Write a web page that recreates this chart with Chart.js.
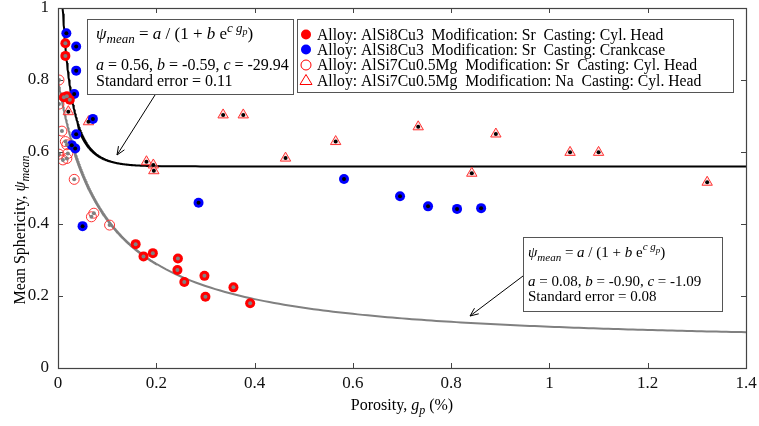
<!DOCTYPE html>
<html><head><meta charset="utf-8">
<script src="https://cdn.jsdelivr.net/npm/chart.js@4/dist/chart.umd.min.js"></script>
<style>html,body{margin:0;padding:0;background:#fff}#wrap{width:759px;height:426px;position:relative}</style>
</head><body><div id="wrap"><canvas id="c" width="759" height="426"></canvas></div>
<script>
// ---- data ----
const xTicks = [0, 0.2, 0.4, 0.6, 0.8, 1, 1.2, 1.4];
const yTicks = [0, 0.2, 0.4, 0.6, 0.8, 1];

const legendLabels = [
  "Alloy: AlSi8Cu3  Modification: Sr  Casting: Cyl. Head",
  "Alloy: AlSi8Cu3  Modification: Sr  Casting: Crankcase",
  "Alloy: AlSi7Cu0.5Mg  Modification: Sr  Casting: Cyl. Head",
  "Alloy: AlSi7Cu0.5Mg  Modification: Na  Casting: Cyl. Head"
];

// AlSi8Cu3, Sr, Cyl. Head (filled red)
const s1X = [0.015,0.015,0.012,0.018,0.024,0.158,0.174,0.193,0.244,0.243,0.257,0.298,0.300,0.357,0.391];
const s1Y = [0.902,0.867,0.752,0.755,0.745,0.344,0.310,0.319,0.304,0.272,0.239,0.256,0.198,0.224,0.180];
// AlSi8Cu3, Sr, Crankcase (filled blue)
const s2X = [0.017,0.037,0.037,0.033,0.071,0.037,0.028,0.035,0.050,0.286,0.582,0.696,0.753,0.812,0.861];
const s2Y = [0.930,0.893,0.826,0.761,0.692,0.649,0.619,0.610,0.394,0.459,0.525,0.477,0.449,0.442,0.444];
// AlSi7Cu0.5Mg, Sr, Cyl. Head (open red circle)
const s3X = [0.002,0.002,0.008,0.015,0.018,0.002,0.010,0.018,0.020,0.033,0.068,0.073,0.105];
const s3Y = [0.800,0.733,0.658,0.629,0.620,0.594,0.578,0.582,0.596,0.524,0.420,0.430,0.397];
// AlSi7Cu0.5Mg, Na, Cyl. Head (open red triangle)
const s4X = [0.021,0.062,0.180,0.194,0.195,0.336,0.377,0.463,0.565,0.733,0.842,0.891,1.042,1.100,1.321];
const s4Y = [0.712,0.684,0.573,0.564,0.548,0.703,0.703,0.583,0.629,0.670,0.541,0.650,0.599,0.599,0.516];

// fitted model parameters stated in the annotation boxes: psi = a / (1 + b e^(c gp))
const fitBlack = {a: 0.56, b: -0.59, c: -29.94, se: 0.11};
const fitGray  = {a: 0.08, b: -0.90, c: -1.09,  se: 0.08};
const fitGridX = [];
for (let i = 0; i <= 400; i++) fitGridX.push(i * 0.0005);
for (let i = 21; i <= 140; i++) fitGridX.push(i * 0.01);

function pts(xs, ys) { return xs.map((x, i) => ({x: x, y: ys[i]})); }
function fitPts(f) { return fitGridX.map(x => ({x: x, y: f.a / (1 + f.b * Math.exp(f.c * x))})); }

const SERIF = '"Liberation Serif", "DejaVu Serif", serif';
const RED = '#ff0000', BLUE = '#0000ff', GRAY = '#808080';

function drawRich(ctx, x, y, segs) {
  for (const s of segs) {
    ctx.font = (s.it ? 'italic ' : '') + s.size + 'px ' + SERIF;
    ctx.fillText(s.t, x, y + (s.dy || 0));
    x += ctx.measureText(s.t).width;
  }
  return x;
}
function richWidth(ctx, segs) {
  let w = 0;
  for (const s of segs) { ctx.font = (s.it ? 'italic ' : '') + s.size + 'px ' + SERIF; w += ctx.measureText(s.t).width; }
  return w;
}
function formulaSegs(S) {
  const s = Math.round(S * 0.75), ss = Math.round(S * 0.58);
  return [
    {t:'ψ', it:true, size:S}, {t:'mean', it:true, size:s, dy:4},
    {t:' = ', size:S}, {t:'a', it:true, size:S}, {t:' / (1 + ', size:S},
    {t:'b', it:true, size:S}, {t:' e', size:S},
    {t:'c', it:true, size:s, dy:-7}, {t:' g', it:true, size:s, dy:-7}, {t:'p', it:true, size:ss, dy:-4},
    {t:')', size:S}
  ];
}
function arrow(ctx, x1, y1, x2, y2) {
  ctx.save();
  ctx.strokeStyle = '#000'; ctx.lineWidth = 1;
  ctx.beginPath(); ctx.moveTo(x1, y1); ctx.lineTo(x2, y2); ctx.stroke();
  const ang = Math.atan2(y2 - y1, x2 - x1), L = 9, W = 0.4;
  ctx.beginPath();
  ctx.moveTo(x2 - L * Math.cos(ang - W), y2 - L * Math.sin(ang - W));
  ctx.lineTo(x2, y2);
  ctx.lineTo(x2 - L * Math.cos(ang + W), y2 - L * Math.sin(ang + W));
  ctx.stroke();
  ctx.restore();
}
function box(ctx, x, y, w, h) {
  ctx.save();
  ctx.fillStyle = '#fff'; ctx.fillRect(x, y, w, h);
  ctx.strokeStyle = '#555'; ctx.lineWidth = 1;
  ctx.strokeRect(x + 0.5, y + 0.5, w, h);
  ctx.restore();
}

const decor = {
  id: 'decor',
  beforeDatasetsDraw(chart) {
    const {ctx, chartArea: a} = chart;
    ctx.save();
    ctx.strokeStyle = '#444'; ctx.lineWidth = 1;
    const xs = chart.scales.x, ys = chart.scales.y;
    ctx.beginPath();
    for (const v of xTicks) {
      const px = Math.round(xs.getPixelForValue(v)) + 0.5;
      ctx.moveTo(px, a.bottom); ctx.lineTo(px, a.bottom - 5);
      ctx.moveTo(px, a.top); ctx.lineTo(px, a.top + 5);
    }
    for (const v of yTicks) {
      const py = Math.round(ys.getPixelForValue(v)) + 0.5;
      ctx.moveTo(a.left, py); ctx.lineTo(a.left + 5, py);
      ctx.moveTo(a.right, py); ctx.lineTo(a.right - 5, py);
    }
    ctx.stroke();
    ctx.restore();
  },
  afterDatasetsDraw(chart) {
    const {ctx, chartArea: a} = chart;
    ctx.save();
    ctx.strokeStyle = '#444'; ctx.lineWidth = 1.2;
    ctx.strokeRect(Math.round(a.left) + 0.5, Math.round(a.top) + 0.5, Math.round(a.right - a.left), Math.round(a.bottom - a.top));

    ctx.fillStyle = '#000'; ctx.textBaseline = 'alphabetic'; ctx.textAlign = 'left';
    // arrows
    arrow(ctx, 155, 95, 117, 155);
    arrow(ctx, 523, 276, 470, 316);

    // upper-left annotation box
    box(ctx, 87, 19, 206, 75);
    ctx.fillStyle = '#000';
    drawRich(ctx, 96, 39, formulaSegs(17));
    drawRich(ctx, 96, 70, [{t:'a', it:true, size:16},{t:' = 0.56, ', size:16},{t:'b', it:true, size:16},{t:' = -0.59, ', size:16},{t:'c', it:true, size:16},{t:' = -29.94', size:16}]);
    drawRich(ctx, 96, 86, [{t:'Standard error = 0.11', size:16}]);

    // lower-right annotation box
    box(ctx, 523, 237, 199, 74);
    ctx.fillStyle = '#000';
    drawRich(ctx, 528, 257, formulaSegs(15));
    drawRich(ctx, 528, 286, [{t:'a', it:true, size:15},{t:' = 0.08, ', size:15},{t:'b', it:true, size:15},{t:' = -0.90, ', size:15},{t:'c', it:true, size:15},{t:' = -1.09', size:15}]);
    drawRich(ctx, 528, 301, [{t:'Standard error = 0.08', size:15}]);

    // legend
    box(ctx, 297, 19, 436, 73);
    const ly = [34.5, 49.5, 65, 80.5];
    for (let i = 0; i < 4; i++) {
      const cx = 306, cy = ly[i];
      ctx.save();
      if (i < 2) {
        ctx.fillStyle = i === 0 ? RED : BLUE;
        ctx.beginPath(); ctx.arc(cx, cy, 5, 0, Math.PI * 2); ctx.fill();
      } else if (i === 2) {
        ctx.strokeStyle = RED; ctx.lineWidth = 1;
        ctx.beginPath(); ctx.arc(cx, cy, 5, 0, Math.PI * 2); ctx.stroke();
      } else {
        ctx.strokeStyle = RED; ctx.lineWidth = 1;
        ctx.beginPath(); ctx.moveTo(cx, cy - 6); ctx.lineTo(cx + 6, cy + 4); ctx.lineTo(cx - 6, cy + 4); ctx.closePath(); ctx.stroke();
      }
      ctx.restore();
      ctx.fillStyle = '#000';
      ctx.textBaseline = 'middle';
      ctx.font = '15.7px ' + SERIF;
      ctx.fillText(legendLabels[i], 317, cy + 1);
      ctx.textBaseline = 'alphabetic';
    }

    // axis titles
    ctx.fillStyle = '#000';
    const xt = [{t:'Porosity, ', size:16},{t:'g', it:true, size:16},{t:'p', it:true, size:12, dy:4},{t:' (%)', size:16}];
    drawRich(ctx, 402 - richWidth(ctx, xt) / 2, 410, xt);
    const yt = [{t:'Mean Sphericity, ', size:16},{t:'ψ', it:true, size:16},{t:'mean', it:true, size:12, dy:4}];
    ctx.save();
    ctx.translate(25, 230); ctx.rotate(-Math.PI / 2);
    drawRich(ctx, -richWidth(ctx, yt) / 2, 0, yt);
    ctx.restore();
    ctx.restore();
  }
};

const ds = [
  // center dots (on top)
  {data: pts(s1X, s1Y), pointRadius: 2, backgroundColor: GRAY, borderWidth: 0, order: 0},
  {data: pts(s2X, s2Y), pointRadius: 2, backgroundColor: '#000', borderWidth: 0, order: 0},
  {data: pts(s3X, s3Y), pointRadius: 2, backgroundColor: GRAY, borderWidth: 0, order: 0},
  {data: pts(s4X, s4Y), pointRadius: 2, backgroundColor: '#000', borderWidth: 0, order: 0},
  // markers
  {label: legendLabels[0], data: pts(s1X, s1Y), pointRadius: 5, backgroundColor: RED, borderColor: RED, borderWidth: 0, order: 1},
  {label: legendLabels[1], data: pts(s2X, s2Y), pointRadius: 5, backgroundColor: BLUE, borderColor: BLUE, borderWidth: 0, order: 1},
  {label: legendLabels[2], data: pts(s3X, s3Y), pointRadius: 5, backgroundColor: 'rgba(255,255,255,0)', borderColor: '#ff3333', borderWidth: 1, order: 1},
  {label: legendLabels[3], data: pts(s4X, s4Y), pointStyle: 'triangle', pointRadius: 6, backgroundColor: 'rgba(255,190,190,0.5)', borderColor: '#ff3333', borderWidth: 1, order: 1},
  // fitted curves
  {data: fitPts(fitBlack), showLine: true, pointRadius: 0, borderColor: '#000', borderWidth: 2, order: 2},
  {data: fitPts(fitGray), showLine: true, pointRadius: 0, borderColor: GRAY, borderWidth: 2, order: 2}
];

new Chart(document.getElementById('c'), {
  type: 'scatter',
  data: {datasets: ds},
  options: {
    responsive: false, animation: false, devicePixelRatio: 1,
    layout: {padding: {top: 8, right: 13, left: 0, bottom: 0}},
    plugins: {legend: {display: false}, tooltip: {enabled: false}},
    elements: {point: {hoverRadius: 0}},
    scales: {
      x: {
        type: 'linear', min: 0, max: 1.4,
        afterBuildTicks: s => { s.ticks = xTicks.map(v => ({value: v})); },
        afterFit: s => { s.height = 58; s.paddingLeft = 0; s.paddingRight = 0; s.paddingTop = 0; s.paddingBottom = 0; },
        grid: {display: false, drawTicks: false}, border: {display: false},
        ticks: {padding: 5, color: '#111', font: {family: SERIF, size: 17}, maxRotation: 0, callback: v => String(v)}
      },
      y: {
        type: 'linear', min: 0, max: 1,
        afterBuildTicks: s => { s.ticks = yTicks.map(v => ({value: v})); },
        afterFit: s => { s.width = 58; s.paddingLeft = 0; s.paddingRight = 0; s.paddingTop = 0; s.paddingBottom = 0; },
        grid: {display: false, drawTicks: false}, border: {display: false},
        ticks: {padding: 9, color: '#111', font: {family: SERIF, size: 17}, callback: v => String(v)}
      }
    }
  },
  plugins: [decor]
});
</script></body></html>
